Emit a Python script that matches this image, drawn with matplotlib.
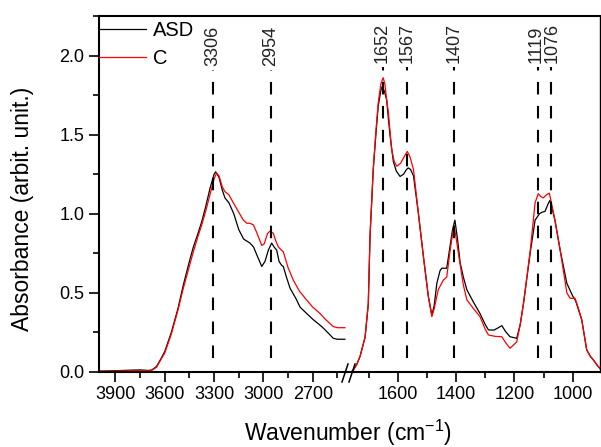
import matplotlib
matplotlib.use("Agg")
import matplotlib.pyplot as plt
from matplotlib.ticker import MultipleLocator, FormatStrFormatter
from matplotlib.lines import Line2D
from matplotlib.transforms import offset_copy

plt.rcParams['font.family'] = ['Liberation Sans', 'DejaVu Sans']
plt.rcParams['mathtext.default'] = 'regular'

# ---------------- data ----------------
# left segment (high wavenumber)
wn_left_asd = [4000, 3900, 3800, 3750, 3700, 3680, 3650, 3620, 3600, 3560, 3520, 3487, 3450,
               3426, 3400, 3375, 3350, 3325, 3300, 3290, 3270, 3250, 3234, 3210, 3180, 3150,
               3120, 3082, 3060, 3040, 3010, 2990, 2970, 2950, 2935, 2919, 2905, 2890, 2879,
               2860, 2838, 2800, 2777, 2737, 2696, 2660, 2635, 2600, 2575, 2550, 2504]
abs_left_asd = [0.005, 0.008, 0.012, 0.013, 0.010, 0.012, 0.035, 0.09, 0.13, 0.25, 0.40, 0.55, 0.70,
                0.79, 0.87, 0.95, 1.05, 1.16, 1.25, 1.265, 1.23, 1.15, 1.10, 1.07, 1.00, 0.90,
                0.84, 0.815, 0.79, 0.74, 0.667, 0.70, 0.77, 0.815, 0.79, 0.77, 0.70, 0.675, 0.667,
                0.60, 0.53, 0.46, 0.41, 0.37, 0.33, 0.30, 0.277, 0.24, 0.213, 0.207, 0.207]

wn_left_c = [4000, 3900, 3800, 3700, 3680, 3650, 3620, 3600, 3560, 3520, 3487, 3450, 3426,
             3400, 3375, 3350, 3325, 3300, 3285, 3270, 3250, 3234, 3210, 3183, 3150, 3122,
             3100, 3082, 3061, 3040, 3010, 2995, 2975, 2960, 2940, 2925, 2909, 2890, 2879,
             2850, 2818, 2780, 2737, 2700, 2656, 2620, 2575, 2550, 2504]
abs_left_c = [0.005, 0.006, 0.008, 0.008, 0.010, 0.03, 0.085, 0.12, 0.24, 0.39, 0.53, 0.67, 0.76,
              0.85, 0.93, 1.02, 1.12, 1.22, 1.257, 1.24, 1.17, 1.14, 1.12, 1.07, 1.01, 0.96,
              0.94, 0.94, 0.93, 0.88, 0.80, 0.81, 0.875, 0.89, 0.877, 0.83, 0.79, 0.77, 0.76,
              0.66, 0.58, 0.51, 0.455, 0.41, 0.37, 0.33, 0.287, 0.28, 0.28]

# right segment (fingerprint region)
wn_right_asd = [1760, 1752, 1740, 1729, 1712, 1701, 1695, 1690, 1684, 1675, 1667, 1658, 1653,
                1645, 1638, 1632, 1626, 1615, 1605, 1592, 1580, 1570, 1564, 1556, 1546, 1529,
                1512, 1495, 1483, 1475, 1466, 1455, 1449, 1432, 1421, 1412, 1404, 1395, 1386,
                1375, 1363, 1340, 1318, 1300, 1289, 1270, 1255, 1243, 1230, 1215, 1192, 1180,
                1169, 1146, 1129, 1114, 1105, 1095, 1085, 1078, 1070, 1061, 1043, 1020, 1000,
                990, 969, 952, 940, 929, 915, 900]
abs_right_asd = [0.0, 0.013, 0.05, 0.10, 0.22, 0.43, 0.86, 1.05, 1.28, 1.50, 1.68, 1.78, 1.805,
                 1.77, 1.72, 1.60, 1.49, 1.33, 1.27, 1.236, 1.25, 1.28, 1.29, 1.28, 1.24, 1.00,
                 0.73, 0.477, 0.36, 0.42, 0.56, 0.64, 0.656, 0.656, 0.79, 0.90, 0.96, 0.84, 0.69,
                 0.60, 0.52, 0.44, 0.37, 0.30, 0.266, 0.265, 0.28, 0.293, 0.255, 0.223, 0.213, 0.30,
                 0.43, 0.75, 0.96, 1.00, 1.01, 1.015, 1.06, 1.085, 1.03, 0.96, 0.77, 0.56, 0.48,
                 0.45, 0.33, 0.14, 0.10, 0.076, 0.04, 0.01]

wn_right_c = [1760, 1752, 1740, 1729, 1712, 1701, 1695, 1690, 1684, 1675, 1667, 1658, 1650,
              1644, 1638, 1632, 1621, 1612, 1603, 1590, 1575, 1567, 1558, 1546, 1529, 1512,
              1495, 1483, 1475, 1461, 1444, 1432, 1421, 1413, 1407, 1400, 1386, 1375, 1363,
              1340, 1318, 1300, 1289, 1265, 1243, 1228, 1215, 1192, 1180, 1169, 1146, 1129,
              1118, 1110, 1101, 1090, 1080, 1072, 1061, 1043, 1020, 1009, 992, 980, 969,
              952, 940, 929, 915, 900]
abs_right_c = [0.0, 0.013, 0.05, 0.10, 0.22, 0.43, 0.86, 1.05, 1.28, 1.52, 1.70, 1.82, 1.86,
               1.82, 1.72, 1.64, 1.405, 1.33, 1.30, 1.32, 1.37, 1.394, 1.36, 1.28, 1.00, 0.73,
               0.477, 0.35, 0.40, 0.52, 0.58, 0.60, 0.76, 0.86, 0.925, 0.85, 0.68, 0.55, 0.456,
               0.40, 0.35, 0.27, 0.234, 0.225, 0.223, 0.18, 0.15, 0.19, 0.30, 0.43, 0.76, 1.07,
               1.127, 1.11, 1.10, 1.12, 1.13, 1.06, 0.96, 0.77, 0.50, 0.466, 0.466, 0.40, 0.33,
               0.14, 0.10, 0.076, 0.04, 0.01]

peaks_left = [3306, 2954]
peaks_right = [1652, 1567, 1407, 1119, 1076]
peak_labels_left = ["3306", "2954"]
peak_labels_right = ["1652", "1567", "1407", "1119", "1076"]
label_nudge_right = [0, 0, 0, -1.0, 1.0]   # points, to keep the close pair apart

# ---------------- figure ----------------
W, H = 601, 447
fig = plt.figure(figsize=(W / 100, H / 100), dpi=100)

def fx(px):
    return px / W

def fy(py):
    return 1 - py / H

bottom = fy(372)
height = fy(16) - bottom
ax1 = fig.add_axes([fx(99), bottom, fx(347) - fx(99), height])
ax2 = fig.add_axes([fx(347), bottom, fx(600) - fx(347), height])

c_black = '#000000'
c_red = '#ff0000'
lw = 0.9

ax1.plot(wn_left_asd, abs_left_asd, color=c_black, lw=lw, label='ASD')
ax1.plot(wn_left_c, abs_left_c, color=c_red, lw=lw, label='C')
ax2.plot(wn_right_asd, abs_right_asd, color=c_black, lw=lw)
ax2.plot(wn_right_c, abs_right_c, color=c_red, lw=lw)

ax1.set_xlim(4000, 2491.5)
ax2.set_xlim(1774, 906.4)
for ax in (ax1, ax2):
    ax.set_ylim(0, 2.25)
    for s in ax.spines.values():
        s.set_linewidth(1.5)

ax1.spines['right'].set_visible(False)
ax2.spines['left'].set_visible(False)
ax2.spines['right'].set_linewidth(1.0)

ax1.xaxis.set_major_locator(MultipleLocator(300))
ax1.xaxis.set_minor_locator(MultipleLocator(150))
ax2.xaxis.set_major_locator(MultipleLocator(200))
ax2.xaxis.set_minor_locator(MultipleLocator(100))
ax1.yaxis.set_major_locator(MultipleLocator(0.5))
ax1.yaxis.set_minor_locator(MultipleLocator(0.25))
ax1.yaxis.set_major_formatter(FormatStrFormatter('%.1f'))

for ax in (ax1, ax2):
    ax.tick_params(axis='x', which='major', direction='out', length=7.5, width=1.2,
                   labelsize=13, pad=2.5, top=False)
    ax.tick_params(axis='x', which='minor', direction='out', length=4.5, width=1.2, top=False)
ax1.tick_params(axis='y', which='major', direction='out', length=7.5, width=1.2,
                labelsize=13, pad=3, right=False)
ax1.tick_params(axis='y', which='minor', direction='out', length=4, width=1.2, right=False)
ax2.tick_params(axis='y', which='both', left=False, right=False, labelleft=False)

# peak markers
dash = (0, (6, 5.5))
ax1.vlines(peaks_left, 0.09, 1.91, colors='black', linestyles=dash, lw=1.5)
ax2.vlines(peaks_right, 0.09, 1.925, colors='black', linestyles=dash, lw=1.5)
for x, t in zip(peaks_left, peak_labels_left):
    ax1.text(x, 1.935, t, rotation=90, ha='center', va='bottom', fontsize=13, color='#222222')
for x, t, dx in zip(peaks_right, peak_labels_right, label_nudge_right):
    tr = offset_copy(ax2.transData, fig=fig, x=dx, y=0, units='points')
    ax2.text(x, 1.95, t, rotation=90, ha='center', va='bottom', fontsize=13, color='#222222',
             transform=tr)

# axis break marks
for x0 in (342, 349):
    fig.add_artist(Line2D([fx(x0), fx(x0 + 6)], [fy(382), fy(364)], color='black', lw=1.1,
                          transform=fig.transFigure))

# labels
fig.text(fx(23), fy(209), 'Absorbance (arbit. unit.)', rotation=90, ha='center', va='center',
         fontsize=16.5)
fig.text(fx(348), fy(440.5), 'Wavenumber (cm$^{-1}$)', ha='center', va='baseline', fontsize=16.5)

# legend
ax1.legend(loc='upper left', bbox_to_anchor=(fx(99), fy(21)), bbox_transform=fig.transFigure,
           frameon=False, fontsize=14.5, handlelength=2.35, handletextpad=0.33,
           borderpad=0, borderaxespad=0, labelspacing=0.45)

fig.savefig('out.png', dpi=100)
